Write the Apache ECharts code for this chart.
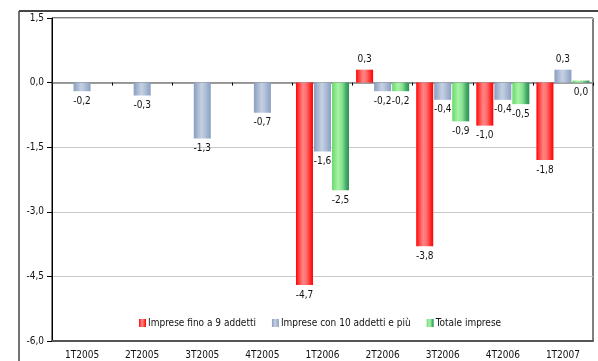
<!DOCTYPE html>
<html>
<head>
<meta charset="utf-8">
<script src="https://cdn.jsdelivr.net/npm/echarts@6/dist/echarts.min.js"></script>
<style>
  html, body { margin: 0; padding: 0; background: #fff; }
  #chart { width: 598px; height: 361px; }
</style>
</head>
<body>
<div id="chart"></div>
<script>
// Quarterly change, by firm size
const categories = ['1T2005', '2T2005', '3T2005', '4T2005', '1T2006', '2T2006', '3T2006', '4T2006', '1T2007'];
const smallFirms = [null, null, null, null, -4.7, 0.3, -3.8, -1.0, -1.8];
const largeFirms = [-0.2, -0.3, -1.3, -0.7, -1.6, -0.2, -0.4, -0.4, 0.3];
const allFirms = [null, null, null, null, -2.5, -0.2, -0.9, -0.5, 0.0];
const seriesNames = ['Imprese fino a 9 addetti', 'Imprese con 10 addetti e più', 'Totale imprese'];
const yTicks = { min: -6, max: 1.5, step: 1.5 };

const FONT = 'DejaVu Sans Condensed';
const fmt = v => v.toFixed(1).replace('.', ',');

const grad = stops => new echarts.graphic.LinearGradient(0, 0, 1, 0,
  stops.map(([o, c]) => ({ offset: o, color: c })));

const colors = [
  grad([[0, '#ff0000'], [0.12, '#ff3030'], [0.4, '#ff8484'], [0.6, '#ff7070'], [0.88, '#ff2020'], [1, '#ff0000']]),
  grad([[0, '#8a9ec0'], [0.45, '#c4d0e2'], [0.6, '#b8c6dc'], [1, '#8a9fc2']]),
  grad([[0, '#6ad86a'], [0.35, '#a6f4a6'], [0.6, '#86e090'], [0.85, '#3fa866'], [1, '#2e8f58']])
];

function makeData(values) {
  return values.map(v => v === null ? null : {
    value: v,
    label: { position: v > 0 ? 'top' : 'bottom' }
  });
}

function makeSeries(name, values, color) {
  return {
    name: name,
    type: 'bar',
    xAxisIndex: 0,
    data: makeData(values),
    barWidth: 17,
    barGap: '6%',
    barMinHeight: 2,
    itemStyle: { color: color },
    label: {
      show: true,
      distance: 5,
      color: '#111',
      fontFamily: FONT,
      fontSize: 10,
      formatter: p => fmt(p.value)
    }
  };
}

const chart = echarts.init(document.getElementById('chart'), null, { renderer: 'canvas' });
chart.setOption({
  animation: false,
  backgroundColor: '#fff',
  grid: { left: 52, top: 18, right: 5, bottom: 20, show: true, borderColor: '#000', borderWidth: 1, backgroundColor: 'transparent' },
  legend: {
    bottom: 28,
    left: 134,
    itemWidth: 7,
    itemHeight: 8,
    itemGap: 16,
    icon: 'rect',
    textStyle: { fontFamily: FONT, fontSize: 10, color: '#111', padding: [0, 0, 0, -3] },
    data: seriesNames
  },
  xAxis: [
    {
      type: 'category',
      data: categories,
      position: 'bottom',
      axisLine: { show: true, onZero: true, lineStyle: { color: '#808080', width: 1.5 } },
      axisTick: { show: true, length: 3, lineStyle: { color: '#000' } },
      axisLabel: { show: false },
      splitLine: { show: false }
    },
    {
      type: 'category',
      data: categories,
      position: 'bottom',
      axisLine: { show: true, onZero: false, lineStyle: { color: '#555', width: 2 } },
      axisTick: { show: false },
      axisLabel: { show: true, margin: 9, fontFamily: FONT, fontSize: 10, color: '#111' },
      splitLine: { show: false }
    }
  ],
  yAxis: {
    type: 'value',
    min: yTicks.min,
    max: yTicks.max,
    interval: yTicks.step,
    axisLine: { show: true, lineStyle: { color: '#000', width: 1 } },
    axisTick: { show: true, length: 5, lineStyle: { color: '#000' } },
    axisLabel: { margin: 8, fontFamily: FONT, fontSize: 10, color: '#111', formatter: v => fmt(v) },
    splitLine: { show: true, lineStyle: { color: '#c8c8c8', width: 1 } }
  },
  series: [
    makeSeries(seriesNames[0], smallFirms, colors[0]),
    makeSeries(seriesNames[1], largeFirms, colors[1]),
    makeSeries(seriesNames[2], allFirms, colors[2])
  ],
  graphic: [
    { type: 'line', shape: { x1: 19, y1: 11, x2: 598, y2: 11 }, style: { stroke: '#444', lineWidth: 2 }, z: 100 },
    { type: 'line', shape: { x1: 19, y1: 11, x2: 19, y2: 361 }, style: { stroke: '#444', lineWidth: 1.5 }, z: 100 }
  ]
});
</script>
</body>
</html>
